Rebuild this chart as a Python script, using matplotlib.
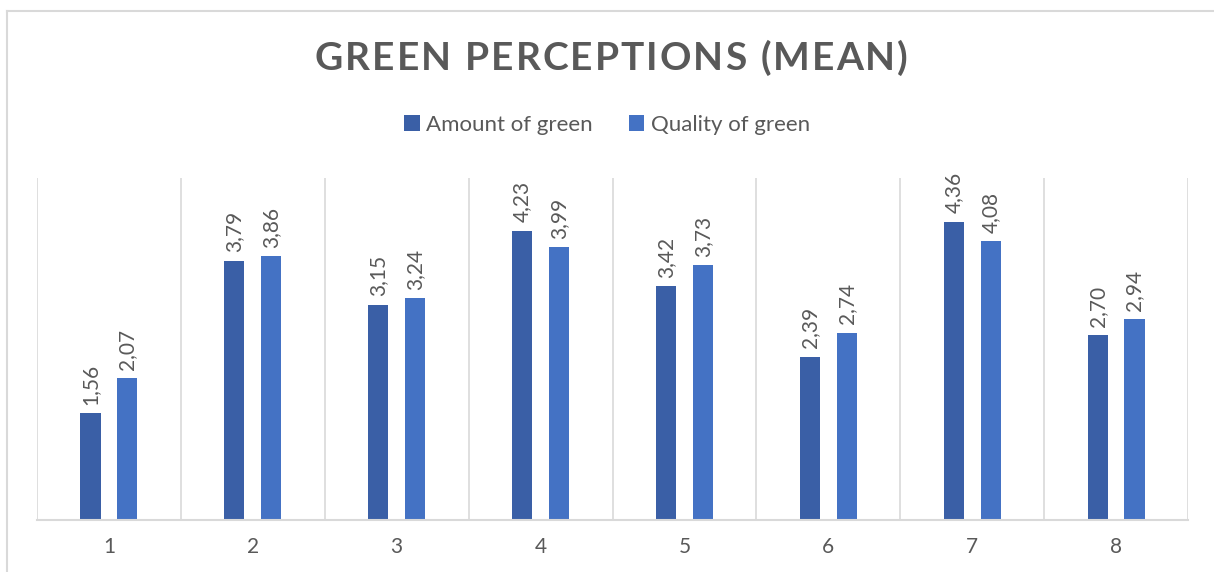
import matplotlib.pyplot as plt
from matplotlib.lines import Line2D
import numpy as np

# Chart data
categories = ['1', '2', '3', '4', '5', '6', '7', '8']
amount_of_green = [1.56, 3.79, 3.15, 4.23, 3.42, 2.39, 4.36, 2.70]
quality_of_green = [2.07, 3.86, 3.24, 3.99, 3.73, 2.74, 4.08, 2.94]
series_names = ['Amount of green', 'Quality of green']
title = 'GREEN PERCEPTIONS (MEAN)'

text_gray = '#595959'
grid_gray = '#D9D9D9'
amount_color = '#3A5FA6'
quality_color = '#4472C4'

W, H = 1214, 572
fig = plt.figure(figsize=(W / 100, H / 100), dpi=100)
ax = fig.add_axes([37 / W, 1 - 520 / H, (1188 - 37) / W, (520 - 178) / H])

x = np.arange(1, len(categories) + 1)
width = 0.14
offset = 0.128

bars_a = ax.bar(x - offset, amount_of_green, width, color=amount_color, label=series_names[0])
bars_q = ax.bar(x + offset, quality_of_green, width, color=quality_color, label=series_names[1])

# data labels, comma decimals, rotated
for bars in (bars_a, bars_q):
    for b in bars:
        v = b.get_height()
        ax.annotate(f'{v:.2f}'.replace('.', ','),
                    (b.get_x() + b.get_width() / 2, v),
                    xytext=(0, 6), textcoords='offset points',
                    rotation=90, ha='center', va='bottom',
                    fontsize=15, color=text_gray, family='Lato')

ax.set_xlim(0.5, len(categories) + 0.5)
ax.set_ylim(0, 5)
ax.set_yticks([])
ax.set_xticks(x)
ax.set_xticklabels(categories, fontsize=15, color=text_gray, family='Lato')
ax.tick_params(axis='x', length=0, pad=12)

# vertical separators between categories
for b in np.arange(0.5, len(categories) + 1, 1):
    ax.axvline(b, color=grid_gray, lw=1.2, zorder=0)

for s in ['top', 'left', 'right']:
    ax.spines[s].set_visible(False)
ax.spines['bottom'].set_color(grid_gray)
ax.spines['bottom'].set_linewidth(1.5)

# title, laid out letter by letter to get the wide tracking
renderer = fig.canvas.get_renderer()
title_kw = dict(fontsize=28, fontweight='bold', color=text_gray, family='Lato', va='center', ha='left')
chars = [fig.text(0, 1 - 58 / H, c, **title_kw) for c in title]
widths = [t.get_window_extent(renderer).width for t in chars]
target_left, target_right = 315, 908
track = (target_right - target_left - sum(widths)) / (len(chars) - 1)
pos = target_left
for t, w in zip(chars, widths):
    t.set_x(pos / W)
    pos += w + track

# legend
fig.legend(handles=[bars_a, bars_q], labels=series_names, loc='center', bbox_to_anchor=(0.5, 1 - 125 / H),
           ncol=2, frameon=False, handlelength=0.7, handleheight=0.7, handletextpad=0.3,
           columnspacing=1.6, prop={'family': 'Lato', 'size': 16}, labelcolor=text_gray)

# chart border (top and left visible)
fig.add_artist(Line2D([7 / W, 7 / W], [0, 1 - 11 / H], color=grid_gray, lw=1.5))
fig.add_artist(Line2D([7 / W, 1], [1 - 11 / H, 1 - 11 / H], color=grid_gray, lw=1.5))

fig.savefig('out.png', dpi=100)
